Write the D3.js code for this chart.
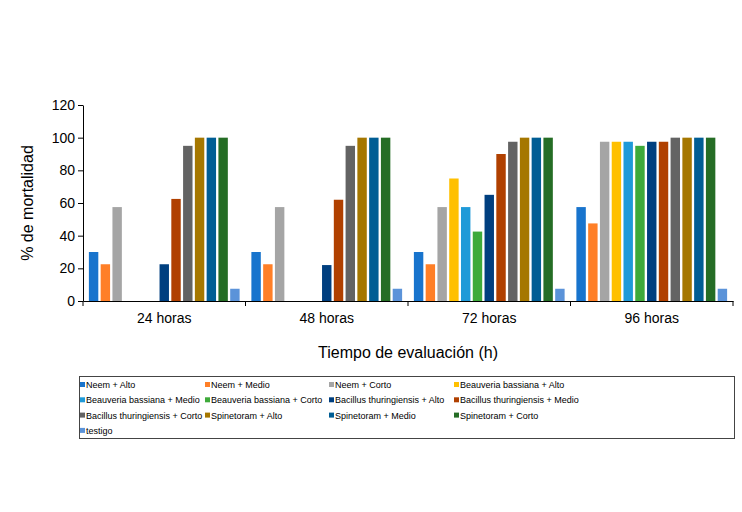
<!DOCTYPE html>
<meta charset="utf-8">
<html>
<head>
  <style>
    body { margin: 0; background: #fff; }
    text { font-family: Arial, "Liberation Sans", sans-serif; }
  </style>
</head>
<body>
  <svg id="viz" width="742" height="512"></svg>
  <script src="https://d3js.org/d3.v7.min.js"></script>
  <script>
    var groups = ["24 horas", "48 horas", "72 horas", "96 horas"];
    var series = ["Neem + Alto", "Neem + Medio", "Neem + Corto",
      "Beauveria bassiana + Alto", "Beauveria bassiana + Medio", "Beauveria bassiana + Corto",
      "Bacillus thuringiensis + Alto", "Bacillus thuringiensis + Medio", "Bacillus thuringiensis + Corto",
      "Spinetoram + Alto", "Spinetoram + Medio", "Spinetoram + Corto", "testigo"];
    var colors = ["#1874CD", "#FF7F27", "#A5A5A5", "#FFC000", "#1F9AD8", "#3EAA3A",
      "#003F7F", "#B04000", "#636363", "#A57700", "#005D94", "#256D25", "#5B93D9"];
    // values[group][series]
    var values = [
      [30, 22.5, 57.5, 0, 0, 0, 22.5, 62.5, 95, 100, 100, 100, 7.5],
      [30, 22.5, 57.5, 0, 0, 0, 22, 62, 95, 100, 100, 100, 7.5],
      [30, 22.5, 57.5, 75, 57.5, 42.5, 65, 90, 97.5, 100, 100, 100, 7.5],
      [57.5, 47.5, 97.5, 97.5, 97.5, 95, 97.5, 97.5, 100, 100, 100, 100, 7.5]
    ];
    var yTicks = [0, 20, 40, 60, 80, 100, 120];

    var svg = d3.select("#viz");
    var mLeft = 83, mRight = 733, mTop = 105, mBottom = 301;

    var x0 = d3.scaleBand().domain(groups).range([mLeft, mRight]).padding(0);
    var x1 = d3.scaleBand().domain(d3.range(series.length))
      .range([0, x0.bandwidth()]).paddingInner(0.2).paddingOuter(0.5);
    var y = d3.scaleLinear().domain([0, 120]).range([mBottom, mTop]);

    var g = svg.append("g");
    groups.forEach(function (grp, gi) {
      g.selectAll(null)
        .data(values[gi])
        .enter()
        .append("rect")
        .attr("x", (d, i) => x0(grp) + x1(i))
        .attr("y", d => y(d))
        .attr("width", x1.bandwidth())
        .attr("height", d => mBottom - y(d))
        .attr("fill", (d, i) => colors[i]);
    });

    var yAxis = svg.append("g")
      .attr("transform", "translate(" + mLeft + ",0)")
      .call(d3.axisLeft(y).tickValues(yTicks).tickSize(5).tickSizeOuter(0));
    yAxis.selectAll("text").attr("font-size", 14).attr("fill", "#000");

    var xAxis = svg.append("g")
      .attr("transform", "translate(0," + mBottom + ")")
      .call(d3.axisBottom(x0).tickSize(0).tickSizeOuter(0).tickPadding(12));
    xAxis.selectAll("text").attr("font-size", 14).attr("fill", "#000");
    // category separators
    xAxis.selectAll(".sep")
      .data(groups.concat([null]))
      .enter()
      .append("line")
      .attr("x1", (d, i) => mLeft + i * x0.bandwidth())
      .attr("x2", (d, i) => mLeft + i * x0.bandwidth())
      .attr("y1", 0).attr("y2", 5)
      .attr("stroke", "#000");
    svg.selectAll(".domain").attr("stroke", "#000");

    svg.append("text")
      .attr("transform", "translate(33," + ((mTop + mBottom) / 2) + ") rotate(-90)")
      .attr("text-anchor", "middle")
      .attr("font-size", 16)
      .text("% de mortalidad");

    svg.append("text")
      .attr("x", (mLeft + mRight) / 2)
      .attr("y", 358)
      .attr("text-anchor", "middle")
      .attr("font-size", 16)
      .text("Tiempo de evaluación (h)");

    // legend
    var lg = svg.append("g");
    lg.append("rect")
      .attr("x", 79.5).attr("y", 376.5).attr("width", 655).attr("height", 62)
      .attr("fill", "none").attr("stroke", "#444");
    var colX = [80, 205, 329, 454];
    var items = lg.selectAll("g.item")
      .data(series)
      .enter()
      .append("g")
      .attr("transform", (d, i) => "translate(" + colX[i % 4] + "," + (385 + Math.floor(i / 4) * 15.3) + ")");
    items.append("rect")
      .attr("x", 0).attr("y", -3).attr("width", 5).attr("height", 5)
      .attr("fill", (d, i) => colors[i]);
    items.append("text")
      .attr("x", 6).attr("y", 0).attr("dy", "0.35em")
      .attr("font-size", 9)
      .text(d => d);
  </script>
</body>
</html>
